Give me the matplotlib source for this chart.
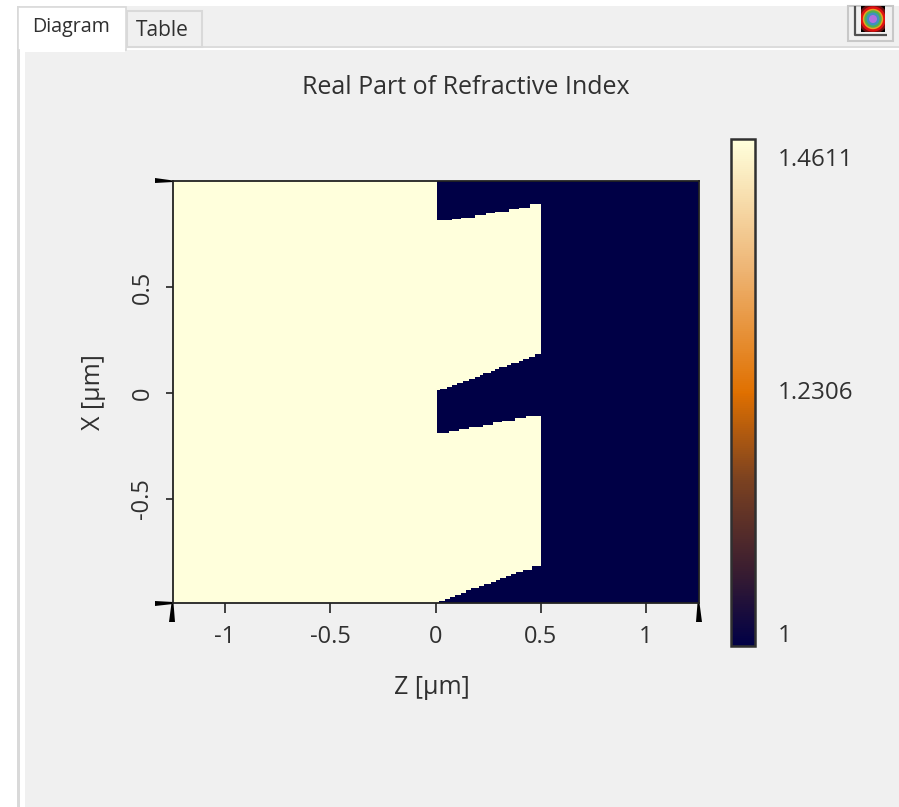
import matplotlib
matplotlib.use('Agg')
import matplotlib.pyplot as plt
import numpy as np
from matplotlib.colors import LinearSegmentedColormap
from matplotlib.patches import Circle, Polygon, Rectangle

plt.rcParams['font.family'] = ['Open Sans', 'DejaVu Sans']

TITLE = 'Real Part of Refractive Index'
Z_TICKS = [-1, -0.5, 0, 0.5, 1]
Z_LABELS = ['-1', '-0.5', '0', '0.5', '1']
X_TICKS = [-0.5, 0, 0.5]
X_LABELS = ['-0.5', '0', '0.5']
CBAR_TICKS = [1, 1.2306, 1.4611]
CBAR_LABELS = ['1', '1.2306', '1.4611']

N_LOW = 1.0
N_HIGH = 1.4611
Z_LIM = (-1.25, 1.25)
X_LIM = (-0.988, 1.0)

# stair edges of the structure (z start of each step, then x)
top_z = [0.006, 0.075, 0.122, 0.186, 0.237, 0.284, 0.349, 0.397, 0.448]
top_x = [0.816, 0.821, 0.830, 0.840, 0.849, 0.858, 0.868, 0.877, 0.892]
mid_up_z = [0.006, 0.019, 0.054, 0.075, 0.103, 0.130, 0.159, 0.189, 0.210, 0.225,
            0.265, 0.284, 0.302, 0.341, 0.360, 0.397, 0.417, 0.444, 0.473]
mid_up_x = [0.014, 0.022, 0.031, 0.041, 0.050, 0.060, 0.069, 0.079, 0.088, 0.097,
            0.107, 0.116, 0.126, 0.135, 0.145, 0.154, 0.164, 0.173, 0.186]
mid_low_z = [0.006, 0.063, 0.111, 0.159, 0.225, 0.273, 0.313, 0.376, 0.427]
mid_low_x = [-0.186, -0.176, -0.167, -0.157, -0.148, -0.138, -0.129, -0.119, -0.108]
bot_z = [0.006, 0.014, 0.043, 0.070, 0.090, 0.122, 0.146, 0.170, 0.206, 0.229,
         0.265, 0.289, 0.305, 0.333, 0.360, 0.381, 0.416, 0.456]
bot_x = [-0.990, -0.980, -0.970, -0.961, -0.951, -0.942, -0.931, -0.921, -0.912, -0.902,
         -0.893, -0.884, -0.874, -0.865, -0.855, -0.846, -0.833, -0.818]
STEP_END_Z = 0.5

cmap_colors = ['#000046', '#3a1d30', '#7c4220', '#e07000', '#eeb676', '#ffffdc']
cmap_stops = [0, 0.15, 0.33, 0.5, 0.75, 1]

W, H = 899, 807
AX_L, AX_R, AX_T, AX_B = 172.5, 698.5, 181, 602.5
CB_L, CB_R, CB_T, CB_B = 731, 755, 139, 646
TXT = '#303030'


def edge_at(z, zs, xs):
    return np.array(xs)[np.searchsorted(zs, z, side='right') - 1]


def box(l, r, t, b):
    return [l / W, 1 - b / H, (r - l) / W, (b - t) / H]


# index map on a grid of one cell per screen pixel
z_cells = np.linspace(Z_LIM[0], Z_LIM[1], 1052)
x_cells = np.linspace(X_LIM[0], X_LIM[1], 843)
n_map = np.full((len(x_cells), len(z_cells)), N_LOW)
n_map[:, z_cells < top_z[0]] = N_HIGH
for j in np.where((z_cells >= top_z[0]) & (z_cells < STEP_END_Z))[0]:
    z = z_cells[j]
    upper = (x_cells > edge_at(z, mid_up_z, mid_up_x)) & (x_cells < edge_at(z, top_z, top_x))
    lower = (x_cells > edge_at(z, bot_z, bot_x)) & (x_cells < edge_at(z, mid_low_z, mid_low_x))
    n_map[upper | lower, j] = N_HIGH

fig = plt.figure(figsize=(W / 100, H / 100), dpi=100, facecolor='white')

# window chrome, in pixel coordinates
bg = fig.add_axes([0, 0, 1, 1], zorder=0)
bg.set_xlim(0, W)
bg.set_ylim(H, 0)
bg.axis('off')
bg.add_patch(Rectangle((20, 6), W - 20, H - 6, fc='#f0f0f0', ec='none'))
bg.add_patch(Rectangle((17, 6), 3, H - 6, fc='#d9d9d9', ec='none'))
bg.add_patch(Rectangle((20, 46), W - 20, 4, fc='white', ec='none'))
bg.add_patch(Rectangle((20, 50), 5, H - 50, fc='white', ec='none'))
bg.add_patch(Rectangle((20, 46), W - 20, 2, fc='#dcdcdc', ec='none'))
bg.add_patch(Rectangle((127, 11), 75, 36, fc='#f0f0f0', ec='#d9d9d9', lw=1.5))
bg.add_patch(Rectangle((18, 7), 108, 43, fc='white', ec='#d9d9d9', lw=1.2))
bg.add_patch(Rectangle((20, 46), 105, 6, fc='white', ec='none'))
bg.text(71.5, 27, 'Diagram', ha='center', va='center', fontsize=14.2, color=TXT)
bg.text(162, 31, 'Table', ha='center', va='center', fontsize=15, color=TXT)

# the icon button in the corner
bg.add_patch(Rectangle((848, 6), 45, 35, fc='#f0f0f0', ec='#c8c8c8', lw=1.5))
bg.plot([855, 855, 887], [6, 34.5, 34.5], color='#505050', lw=1.6, solid_capstyle='butt')
bg.add_patch(Rectangle((861, 6), 24, 26, fc='black', ec='none'))
for r, c in zip([15, 12.7, 10.2, 8.7, 6.5, 4],
                ['#701010', '#e01010', '#e8a020', '#50b050', '#4090c0', '#b070e0']):
    patch = Circle((873, 19), r, fc=c, ec='none')
    bg.add_patch(patch)
    patch.set_clip_path(Rectangle((861, 6), 24, 26, transform=bg.transData))

# wedge shaped corner ticks
for pts in [[(155, 178), (155, 183), (173, 182), (173, 180.5)],
            [(155, 601), (155, 606), (173, 604), (173, 602)],
            [(169, 622), (175, 622), (173.5, 603), (171.5, 603)],
            [(696, 622), (702, 622), (699.5, 603), (697.5, 603)]]:
    bg.add_patch(Polygon(pts, fc='black', ec='none'))

cmap = LinearSegmentedColormap.from_list('index', list(zip(cmap_stops, cmap_colors)))

ax = fig.add_axes(box(AX_L, AX_R, AX_T, AX_B), zorder=2)
im = ax.imshow(n_map, origin='lower', extent=[*Z_LIM, *X_LIM], aspect='auto',
               cmap=cmap, vmin=N_LOW, vmax=N_HIGH, interpolation='nearest')
ax.set_xticks(Z_TICKS, Z_LABELS)
ax.set_yticks(X_TICKS, X_LABELS, rotation=90, va='center')
ax.tick_params(axis='x', length=7.2, width=1.2, labelsize=17, labelcolor=TXT, color='#222222', pad=9)
ax.tick_params(axis='y', length=5, width=1.2, labelsize=17, labelcolor=TXT, color='#222222', pad=8)
for s in ax.spines.values():
    s.set_linewidth(1.3)
    s.set_color('#222222')
ax.set_xlabel('Z [μm]', fontsize=18, color=TXT)
ax.set_ylabel('X [μm]', fontsize=18, color=TXT)
ax.xaxis.set_label_coords((432 - AX_L) / (AX_R - AX_L), -(687 - AX_B) / (AX_B - AX_T))
ax.yaxis.set_label_coords(-(AX_L - 94) / (AX_R - AX_L), (AX_B - 392) / (AX_B - AX_T))
ax.xaxis.label.set_va('center')
ax.yaxis.label.set_va('center')
bg.text(466, 88, TITLE, ha='center', va='center', fontsize=18, color=TXT)

cax = fig.add_axes(box(CB_L, CB_R, CB_T, CB_B), zorder=2)
cb = fig.colorbar(im, cax=cax)
cb.set_ticks([])
cb.outline.set_linewidth(1.8)
cb.outline.set_edgecolor('#303030')
# the value labels sit a bit inside the bar ends
for v, lab, dy in zip(CBAR_TICKS, CBAR_LABELS, [10, -1, -21]):
    cax.annotate(lab, xy=(1, v), xycoords=('axes fraction', 'data'), xytext=(23, dy),
                 textcoords='offset pixels', va='center', ha='left', fontsize=17.4, color=TXT)

fig.savefig('out.png', dpi=100)
